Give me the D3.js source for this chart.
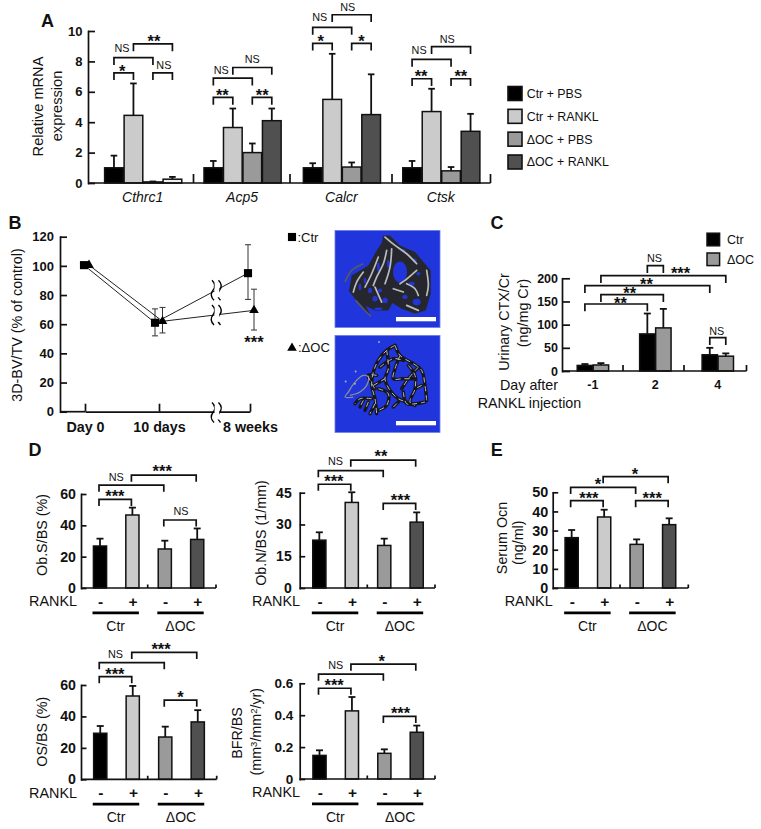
<!DOCTYPE html>
<html><head><meta charset="utf-8">
<script src="https://cdnjs.cloudflare.com/ajax/libs/d3/7.8.5/d3.min.js"></script>
<style>
html,body{margin:0;padding:0;background:#fff}
svg{display:block}
text{font-family:"Liberation Sans",Arial,sans-serif;fill:#111}
.axis path,.axis line{stroke:#111;stroke-width:1.7;fill:none}
.axis text{font-family:"Liberation Sans",Arial,sans-serif;font-weight:bold;fill:#111}
</style></head><body>
<svg id="fig" width="761" height="829"></svg>
<script>
// ---------- DATA ----------
const seriesNames = ["Ctr + PBS","Ctr + RANKL","ΔOC + PBS","ΔOC + RANKL"];
const genes = ["Cthrc1","Acp5","Calcr","Ctsk"];
const aMeans = [[1.0,4.45,0.07,0.25],[1.0,3.65,2.0,4.1],[1.0,5.5,1.05,4.5],[1.0,4.7,0.8,3.4]];
const aTops  = [[1.8,6.55,0.1,0.4],[1.45,4.9,2.6,4.9],[1.3,8.5,1.35,7.15],[1.45,6.2,1.05,4.55]];
// bracket: from bar, to bar, height (axis units), label, label bar position, label height
const aBrackets = [
  [[0,1,7.25,"*",0.42,7.6],[0,2,8.25,"NS",0.41,8.88],[1,3,9.15,"**",2.05,9.6],[2,3,7.25,"NS",2.56,7.76]],
  [[0,1,5.63,"**",0.46,5.99],[2,3,5.63,"**",2.51,5.99],[0,2,6.9,"NS",0.41,7.39],[1,3,7.6,"NS",2.0,8.14]],
  [[0,1,9.19,"*",0.41,9.6],[2,3,9.19,"*",2.5,9.6],[0,2,10.24,"NS",0.36,10.88],[1,3,11.07,"NS",1.8,11.58]],
  [[0,1,6.86,"**",0.46,7.26],[2,3,6.86,"**",2.5,7.26],[0,2,8.13,"NS",0.36,8.75],[1,3,8.97,"NS",1.8,9.49]]
];
const bCategories = ["Day 0","10 days","8 weeks"];
const bCtr = [100.5,61,95], bCtrLow = [null,52,77], bCtrHigh = [null,70.5,114.5];
const bOc  = [100.5,62,69.5], bOcLow = [null,54,56], bOcHigh = [null,71.5,84];
const cDays = ["-1","2","4"];
const cSeries = ["Ctr","ΔOC"];
const cCtr = [12,80,35], cCtrTop = [15,124,50];
const cOc  = [13,93,32], cOcTop  = [17,134,38];
const cBrackets = [[0,2,144.6,"**",1.42,155.3],[1,3,164.6,"**",1.62,174.8],[0,4,184,"**",1.98,196.3],
  [1,5,205.6,"***",3.37,220],[2,3,227.2,"NS",2.45,244.4],[4,5,71.8,"NS",4.44,86.3]];
const dGroups = ["Ctr -","Ctr +","ΔOC -","ΔOC +"];
const obsMeans = [26.8,46.6,24.9,31], obsTops = [31.5,51.3,30.2,38];
const obsBr = [[0,1,56.6,"***",0.46,60.8],[0,2,65.7,"NS",0.5,71],[1,3,72.1,"***",1.92,76.6],[2,3,43.4,"NS",2.5,49.1]];
const obnMeans = [22.6,40.4,20.1,31.1], obnTops = [26.3,45.2,23.3,35.7];
const obnBr = [[0,1,49,"***",0.45,52.1],[0,2,55.4,"NS",0.5,60],[1,3,60.4,"**",1.9,63.9],[2,3,40,"***",2.5,43.1]];
const osMeans = [29.3,53,26.9,36.5], osTops = [33.9,59.4,33.5,44];
const osBr = [[0,1,65.3,"***",0.45,69.5],[0,2,74.2,"NS",0.47,79.7],[1,3,80.8,"***",1.87,85.4],[2,3,50.4,"*",2.47,54.3]];
const bfrMeans = [0.148,0.427,0.161,0.293], bfrTops = [0.18,0.514,0.186,0.335];
const bfrBr = [[0,1,0.569,"***",0.45,0.61],[0,2,0.657,"NS",0.5,0.715],[1,3,0.72,"*",1.92,0.759],[2,3,0.393,"***",2.5,0.433]];
const ocnMeans = [26.3,37.1,22.8,33.1], ocnTops = [30.3,40.9,25.4,36.4];
const ocnBr = [[0,1,45.6,"***",0.53,49],[0,2,52.6,"*",0.81,56],[1,3,58.2,"*",1.95,61.3],[2,3,45.6,"***",2.48,49]];
// micro-CT illustrations, traced on a 315-unit grid
const ctrSilhouette = [[145,15],[165,15],[195,45],[240,65],[270,100],[287,120],[287,190],[272,240],[240,250],[200,235],[172,218],[160,240],[120,240],[92,226],[108,258],[60,205],[42,182],[50,135],[100,105],[125,60],[140,38]];
const ctrHoles = [[195,125,21,32],[150,210,8,8],[120,205,8,8],[135,180,6,6],[105,180,6,8],[230,160,9,6],[245,215,12,10],[210,200,8,6],[130,235,12,4],[160,100,4,12],[130,110,4,14],[205,60,6,4],[240,90,5,6],[90,150,4,9],[250,130,6,5],[75,170,4,10]];
const ctrLight = [[[150,20],[180,45],[215,70],[245,100]],[[155,60],[145,100],[125,140],[115,165]],[[130,80],[110,130],[90,170]],[[170,55],[165,110],[150,160]],[[275,120],[280,165],[275,195]],[[245,120],[210,150],[195,160]],[[85,125],[65,155],[55,185]],[[215,160],[240,175],[250,195]],[[175,175],[205,185]],[[120,170],[140,215]],[[215,225],[250,240]]];
const ctrThin = [[[30,155],[50,120],[85,100]],[[62,210],[85,235],[108,258]]];
const ocStrands = [
 [[180,30],[155,45],[130,75],[115,110],[110,150],[120,190],[125,235]],
 [[180,30],[195,60],[235,85],[260,105],[270,150],[275,195]],
 [[155,45],[160,100],[150,130],[165,165],[190,190],[215,200]],
 [[195,60],[180,100],[175,130],[205,130],[235,130]],
 [[220,90],[240,120],[240,160],[225,200],[240,210]],
 [[115,150],[150,130]],[[130,160],[160,175],[155,210],[130,225]],
 [[110,190],[75,190],[60,205]],[[85,195],[75,215]],[[100,200],[90,225]],[[120,205],[105,235]],
 [[205,170],[215,205],[240,205],[270,200]],[[175,215],[190,200]],[[250,95],[220,130],[200,160]],
 [[135,95],[175,70],[205,75]],[[125,120],[100,120],[120,160]],[[260,150],[240,160]]
];
const ocLoop = [[55,185],[30,185],[40,170],[60,140],[85,120],[100,125],[95,150],[75,170],[45,180]];
const ocDots = [[32,138],[62,108],[60,145],[132,20]];

// ---------- COLOURS ----------
const fills = ["#000000","#cbcbcb","#9a9a9a","#505050"];
const ink = "#111";

// ---------- HELPERS ----------
const svg = d3.select("#fig");
function txt(x,y,s,size,o={}){
  const t = svg.append("text").attr("font-size",size).attr("text-anchor",o.anchor||"middle")
    .attr("font-weight",o.bold?"bold":"normal").attr("font-style",o.italic?"italic":"normal");
  if(o.rot){t.attr("transform",`translate(${x},${y}) rotate(-90)`).attr("dy","0.35em");}
  else{t.attr("x",x).attr("y",y).attr("dy","0.35em");}
  t.text(s); return t;
}
function star(x,y,s){ // asterisks sit high in the em box: lift so y is the glyph centre
  svg.append("text").attr("x",x).attr("y",y+9.5).attr("font-size",16.5).attr("font-weight","bold").attr("text-anchor","middle").text(s);
}
function yAxis(scale,x,ticks,size,pad,tl,fmt){
  const a = d3.axisLeft(scale).tickValues(ticks).tickSize(-tl).tickSizeOuter(0).tickPadding(pad);
  if(fmt) a.tickFormat(fmt);
  const g = svg.append("g").attr("class","axis").attr("transform",`translate(${x},0)`).call(a);
  g.selectAll("text").attr("font-size",size).attr("font-family","Liberation Sans");
  g.select(".domain").attr("stroke-linecap","square");
  return g;
}
function baseline(x0,x1,y,seps,h){
  const xs = d3.scaleLinear().domain([0,1]).range([x0,x1]);
  const path = d3.path(); path.moveTo(xs(0),y); path.lineTo(xs(1),y);
  seps.forEach(s=>{path.moveTo(s,y); path.lineTo(s,y-h);});
  svg.append("path").attr("d",path.toString()).attr("fill","none").attr("stroke",ink).attr("stroke-width",1.7);
}
function bars(centers,means,tops,y,width,colorFn,cap){
  const g = svg.append("g");
  g.selectAll("line.e").data(means).join("line").attr("class","e")
    .attr("x1",(d,i)=>centers[i]).attr("x2",(d,i)=>centers[i])
    .attr("y1",d=>y(d)).attr("y2",(d,i)=>y(tops[i]))
    .attr("stroke",ink).attr("stroke-width",1.8);
  g.selectAll("line.c").data(means).join("line").attr("class","c")
    .attr("x1",(d,i)=>centers[i]-cap).attr("x2",(d,i)=>centers[i]+cap)
    .attr("y1",(d,i)=>y(tops[i])).attr("y2",(d,i)=>y(tops[i]))
    .attr("stroke",ink).attr("stroke-width",1.8);
  g.selectAll("rect").data(means).join("rect")
    .attr("x",(d,i)=>centers[i]-width/2).attr("width",width)
    .attr("y",d=>y(d)).attr("height",d=>y(0)-y(d))
    .attr("fill",(d,i)=>colorFn(i)).attr("stroke",ink).attr("stroke-width",1.5);
}
function brackets(list,xOf,y,tip,nudge){
  list.forEach(b=>{
    const xa=xOf(b[0])+(nudge||0), xb=xOf(b[1])+(nudge||0), yt=y(b[2]);
    svg.append("path").attr("d",`M${xa},${yt+tip}V${yt}H${xb}V${yt+tip}`).attr("fill","none").attr("stroke",ink).attr("stroke-width",1.7);
    if(b[3]==="NS") txt(xOf(b[4]),y(b[5]),b[3],10.8);
    else star(xOf(b[4]),y(b[5]),b[3]);
  });
}
const c4 = d3.scaleOrdinal().domain([0,1,2,3]).range(fills);

// ---------- PANEL A ----------
txt(47.5,21,"A",18,{bold:true});
const aY = d3.scaleLinear().domain([0,10]).range([183,31]);
const aX0 = d3.scaleBand().domain(genes).range([93.5,491]);
const aX1 = d3.scaleBand().domain(d3.range(4)).range([0,aX0.bandwidth()]).paddingInner(0).paddingOuter(0.55);
genes.forEach((g,gi)=>{
  const centers = d3.range(4).map(j=>aX0(g)+aX1(j)+aX1.bandwidth()/2);
  const xOf = d3.scaleLinear().domain(d3.range(4)).range(centers);
  bars(centers,aMeans[gi],aTops[gi],aY,aX1.bandwidth()-0.8,
       i=>(gi===0&&i===3)?"#efefef":c4(i),3.3);
  brackets(aBrackets[gi],xOf,aY,7.3);
  txt(aX0(g)+aX0.bandwidth()/2-0.5,197,g,14,{italic:true});
});
yAxis(aY,88,[0,2,4,6,8,10],13,5.5,7);
baseline(88,490.5,183,[193.5,290,392,490.5],9);
txt(38,106.5,"Relative mRNA",14.6,{rot:true});
txt(57,106,"expression",14.6,{rot:true});
// legend A
const legYs = d3.scalePoint().domain(seriesNames).range([93.5,162]);
seriesNames.forEach((s,i)=>{
  svg.append("rect").attr("x",508).attr("y",legYs(s)-7).attr("width",14).attr("height",14).attr("fill",fills[i]).attr("stroke",ink).attr("stroke-width",1.6);
  txt(526.7,legYs(s),s,12.4,{anchor:"start"});
});

// ---------- PANEL B ----------
txt(15,223,"B",18,{bold:true});
const bY = d3.scaleLinear().domain([0,120]).range([411.7,236.7]);
const bX = d3.scaleLinear().domain([0,1,2]).range([85,159,250]);
const ctrOff = [-1,-4,-2], ocOff = [4,3.5,4];
const ctrX = i=>bX(i)+ctrOff[i], ocX = i=>bX(i)+ocOff[i];
const bLine = (xf)=>d3.line().x((d,i)=>xf(i)).y(d=>bY(d));
[[bCtr,ctrX,bCtrLow,bCtrHigh],[bOc,ocX,bOcLow,bOcHigh]].forEach(([v,xf,lo,hi])=>{
  svg.append("path").attr("d",bLine(xf)(v)).attr("fill","none").attr("stroke","#222").attr("stroke-width",1);
  v.forEach((d,i)=>{
    if(lo[i]==null) return;
    const x=xf(i);
    svg.append("path").attr("d",`M${x-3},${bY(hi[i])}H${x+3}M${x},${bY(hi[i])}V${bY(lo[i])}M${x-3},${bY(lo[i])}H${x+3}`).attr("stroke","#333").attr("stroke-width",1).attr("fill","none");
  });
});
const sq = d3.symbol().type(d3.symbolSquare).size(66)(), tri = d3.symbol().type(d3.symbolTriangle).size(40)();
bCtr.forEach((d,i)=>svg.append("path").attr("d",sq).attr("transform",`translate(${ctrX(i)},${bY(d)})`).attr("fill","#000"));
bOc.forEach((d,i)=>svg.append("path").attr("d",tri).attr("transform",`translate(${ocX(i)},${bY(d)})`).attr("fill","#000"));
const bAx = svg.append("g").attr("class","axis").attr("transform","translate(0,411.7)")
  .call(d3.axisBottom(bX).tickValues([0,1,2]).tickSize(-8).tickSizeOuter(0).tickPadding(10).tickFormat(i=>bCategories[i]));
bAx.selectAll("text").attr("font-size",14.3).attr("font-weight","normal");
svg.append("path").attr("d","M60,411.7H85").attr("stroke",ink).attr("stroke-width",1.7);
yAxis(bY,60,[0,20,40,60,80,100,120],13,6,7);
txt(17,325,"3D-BV/TV (% of control)",14.3,{rot:true});
star(254,338,"***");
function squiggle(cy){
  [213,219.5].forEach(x=>{
    svg.append("path").attr("d",`M${x-1},${cy-10}q5,5 1,10q-4,5 1,10`).attr("fill","none").attr("stroke","#000").attr("stroke-width",1.4);
  });
  svg.append("rect").attr("x",214.6).attr("y",cy-7).attr("width",4.6).attr("height",14).attr("fill","#fff");
}
const midY = (v,xf)=>{const t=(216-xf(1))/(xf(2)-xf(1)); return bY(v[1])+t*(bY(v[2])-bY(v[1]));};
squiggle(midY(bCtr,ctrX)); squiggle(midY(bOc,ocX)); squiggle(412.5);
// ct legend
svg.append("path").attr("d",sq).attr("transform","translate(292,237)").attr("fill","#000");
txt(297.5,237,":Ctr",13,{anchor:"start"});
svg.append("path").attr("d",tri).attr("transform","translate(292,348)").attr("fill","#000");
txt(298,347.5,":ΔOC",13,{anchor:"start"});
// micro-CT pictures
function ctFrame(top){
  const gx = d3.scaleLinear().domain([0,315]).range([335,440]);
  const gy = d3.scaleLinear().domain([0,294]).range([top,top+98]);
  svg.append("rect").attr("x",335).attr("y",top).attr("width",105).attr("height",97).attr("fill","#2036dc").attr("stroke","#6d7fe6").attr("stroke-width",0.8);
  return {gx,gy,line:d3.line().x(d=>gx(d[0])).y(d=>gy(d[1])).curve(d3.curveCatmullRom)};
}
(function(){
  const {gx,gy,line}=ctFrame(230.4);
  const g = svg.append("g").attr("filter","url(#soft)");
  g.append("path").attr("d",d3.line().x(d=>gx(d[0])).y(d=>gy(d[1])).curve(d3.curveLinearClosed)(ctrSilhouette)).attr("fill","#26282e");
  ctrHoles.forEach(h=>g.append("ellipse").attr("cx",gx(h[0])).attr("cy",gy(h[1])).attr("rx",h[2]/3).attr("ry",h[3]/3).attr("fill","#2036dc"));
  ctrThin.forEach(p=>g.append("path").attr("d",line(p)).attr("fill","none").attr("stroke","#555a62").attr("stroke-width",1.6));
  ctrLight.forEach(p=>g.append("path").attr("d",line(p)).attr("fill","none").attr("stroke","#b9bcbc").attr("stroke-width",1.7).attr("stroke-linecap","round"));
  svg.append("rect").attr("x",396).attr("y",317).attr("width",40).attr("height",4.3).attr("fill","#fff");
  const {gx:hx,gy:hy,line:l2}=ctFrame(335.4);
  const g2 = svg.append("g").attr("filter","url(#soft)");
  ocStrands.forEach(p=>g2.append("path").attr("d",l2(p)).attr("fill","none").attr("stroke","#15171c").attr("stroke-width",3.4).attr("stroke-linecap","round"));
  g2.append("path").attr("d",l2(ocLoop)).attr("fill","none").attr("stroke","#8d9096").attr("stroke-width",1.2);
  ocStrands.forEach(p=>g2.append("path").attr("d",l2(p)).attr("fill","none").attr("stroke","#b6babc").attr("stroke-width",1).attr("stroke-dasharray","5 4"));
  ocDots.forEach(d=>g2.append("circle").attr("cx",hx(d[0])).attr("cy",hy(d[1])).attr("r",1).attr("fill","#aaa"));
  svg.append("rect").attr("x",396).attr("y",421).attr("width",40).attr("height",4.3).attr("fill","#fff");
})();
svg.append("defs").append("filter").attr("id","soft").append("feGaussianBlur").attr("stdDeviation",0.45);

// ---------- PANEL C ----------
txt(497,222.7,"C",18,{bold:true});
const cY = d3.scaleLinear().domain([0,200]).range([371,278.3]);
const cX0 = d3.scaleBand().domain(cDays).range([561.7,749]);
const cX1 = d3.scaleBand().domain(cSeries).range([0,cX0.bandwidth()]).paddingOuter(0.95);
const cCenters = cDays.flatMap(day=>cSeries.map(s=>cX0(day)+cX1(s)+cX1.bandwidth()/2));
const cMeans = cDays.flatMap((d,i)=>[cCtr[i],cOc[i]]);
const cTops = cDays.flatMap((d,i)=>[cCtrTop[i],cOcTop[i]]);
bars(cCenters,cMeans,cTops,cY,cX1.bandwidth()-0.6,i=>i%2?fills[2]:fills[0],3.5);
const cXof = d3.scaleLinear().domain(d3.range(6)).range(cCenters);
brackets(cBrackets,cXof,cY,7.2);
yAxis(cY,562,[0,50,100,150,200],12.5,4,8);
baseline(562,746.5,371,[623,684,746.5],6);
cDays.forEach((d,i)=>txt(cX0(d)+cX0.bandwidth()/2,385,d,12.5,{bold:true}));
txt(504,322,"Urinary CTX/Cr",14.3,{rot:true});
txt(523,313,"(ng/mg Cr)",14.3,{rot:true});
txt(529,385,"Day after",14.3);
txt(529.5,403,"RANKL injection",14.3);
cSeries.forEach((s,i)=>{
  const yy=[239.5,259.3][i];
  svg.append("rect").attr("x",707).attr("y",yy-6.3).attr("width",12.6).attr("height",12.6).attr("fill",i?fills[2]:"#000").attr("stroke",ink).attr("stroke-width",1.5);
  txt(727,yy,s,12.5,{anchor:"start"});
});

// ---------- PANELS D, E ----------
txt(35,450,"D",18,{bold:true});
txt(496.7,450,"E",18,{bold:true});
const signs = ["-","+","-","+"];
function groupPanel(o){
  const y = d3.scaleLinear().domain([0,o.max]).range([o.y0,o.yTop]);
  const x = d3.scaleBand().domain(dGroups).range(o.range).paddingInner(0.6).paddingOuter(0.3);
  const centers = dGroups.map(g=>x(g)+x.bandwidth()/2);
  bars(centers,o.means,o.tops,y,x.bandwidth()+0.2,c4,3.5);
  const xOf = d3.scaleLinear().domain(d3.range(4)).range(centers);
  brackets(o.br,xOf,y,6.6,-1);
  yAxis(y,o.ax,o.ticks,o.size,o.pad,5.5,o.fmt);
  baseline(o.ax,o.end,o.y0,[o.sep,o.end],3.5);
  o.title.forEach(t=>{ const e=txt(t[0],t[1],"",14.3,{rot:true}); t[2].forEach(seg=>{
    const ts=e.append("tspan").text(seg[0]);
    if(seg[1]) ts.attr("dy",seg[1]).attr("font-size",9.5);
    if(seg[2]) ts.attr("dy",seg[2]);
  });});
  const rowY=o.y0+13.2;
  txt(o.rankl,rowY,"RANKL",14.4,{anchor:"end"});
  signs.forEach((s,i)=>txt(centers[i]+0.7,rowY-(s==="+"?0:0),s,15.5,{bold:true}));
  [[0,1],[2,3]].forEach((pair,k)=>{
    svg.append("path").attr("d",`M${centers[pair[0]]-7.5},${rowY+11.6}H${centers[pair[1]]+6.5}`).attr("stroke","#000").attr("stroke-width",2.7);
    txt((centers[pair[0]]+centers[pair[1]])/2-0.5,rowY+24.5,k?"ΔOC":"Ctr",14);
  });
}
groupPanel({y0:588,yTop:494,max:60,range:[83.8,213.4],means:obsMeans,tops:obsTops,br:obsBr,ax:81,end:216,sep:147.7,ticks:[0,20,40,60],size:14.2,pad:5,rankl:77,title:[[41.7,535,[["Ob.S/BS (%)"]]]]});
groupPanel({y0:588,yTop:492.7,max:45,range:[303.1,432.9],means:obnMeans,tops:obnTops,br:obnBr,ax:299.7,end:435,sep:367.3,ticks:[0,15,30,45],size:14,pad:8,rankl:300,title:[[261,533,[["Ob.N/BS (1/mm)"]]]]});
groupPanel({y0:779.3,yTop:685,max:60,range:[84,214],means:osMeans,tops:osTops,br:osBr,ax:81,end:216.7,sep:147.7,ticks:[0,20,40,60],size:14.2,pad:5,rankl:77,title:[[41.7,731.7,[["OS/BS (%)"]]]]});
groupPanel({y0:779,yTop:683.3,max:0.6,range:[303.3,433],means:bfrMeans,tops:bfrTops,br:bfrBr,ax:299.7,end:435,sep:367.3,ticks:[0,0.2,0.4,0.6],size:13.5,pad:6.5,rankl:300,fmt:d=>d===0?"0":d.toFixed(1),
  title:[[237,733,[["BFR/BS"]]],[255.7,731.7,[["(mm"],["3","-4"],["/mm","","4"],["2","-4"],["/yr)","","4"]]]]});
groupPanel({y0:588,yTop:492.3,max:50,range:[555.4,685.4],means:ocnMeans,tops:ocnTops,br:ocnBr,ax:552.7,end:688.3,sep:620,ticks:[0,10,20,30,40,50],size:14.4,pad:4.5,rankl:552.7,title:[[501.7,538,[["Serum Ocn"]]],[517.7,542.7,[["(ng/ml)"]]]]});
</script>
</body></html>
